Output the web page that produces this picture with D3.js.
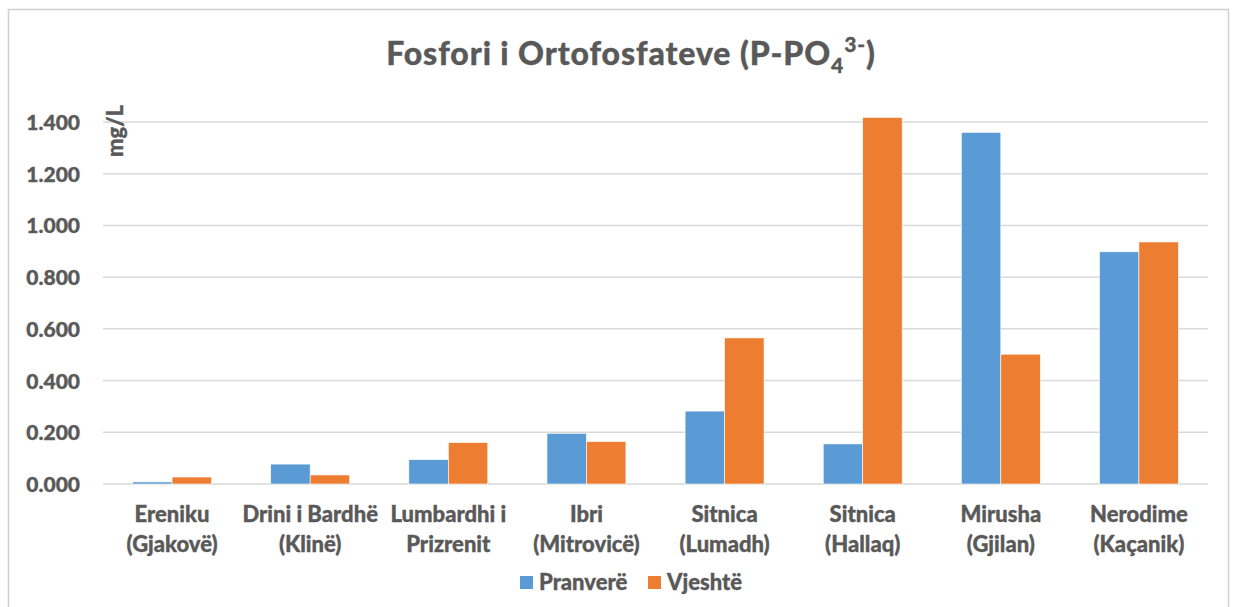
<!DOCTYPE html>
<html>
<head>
<meta charset="utf-8">
<script src="https://cdn.jsdelivr.net/npm/d3@7"></script>
<style>
  body { margin: 0; background: #fff; }
  text { font-family: Lato, "Open Sans", sans-serif; font-weight: 900; fill: #595959;
         stroke: #595959; stroke-width: 0.35px; }
</style>
</head>
<body>
<div id="chart"></div>
<script>
// data
var categories = [
  ["Ereniku", "(Gjakovë)"],
  ["Drini i Bardhë", "(Klinë)"],
  ["Lumbardhi i", "Prizrenit"],
  ["Ibri", "(Mitrovicë)"],
  ["Sitnica", "(Lumadh)"],
  ["Sitnica", "(Hallaq)"],
  ["Mirusha", "(Gjilan)"],
  ["Nerodime", "(Kaçanik)"]
];
var pranvere = [0.008, 0.077, 0.094, 0.196, 0.282, 0.155, 1.360, 0.898];
var vjeshte  = [0.027, 0.035, 0.160, 0.164, 0.565, 1.418, 0.502, 0.936];
var seriesNames = ["Pranverë", "Vjeshtë"];
var colors = ["#5B9BD5", "#ED7D31"];
var yTicks = [0, 0.2, 0.4, 0.6, 0.8, 1.0, 1.2, 1.4];

var W = 1235, H = 607;
var margin = {top: 122, right: 27, bottom: 123, left: 103};
var width = W - margin.left - margin.right,
    height = H - margin.top - margin.bottom;

var svg = d3.select("#chart")
  .append("svg")
  .attr("width", W)
  .attr("height", H);

// chart area border
svg.append("rect")
  .attr("x", 8.5).attr("y", 9.5)
  .attr("width", 1220).attr("height", 620)
  .attr("fill", "none")
  .attr("stroke", "#d0d0d0")
  .attr("stroke-width", 1.5);

var g = svg.append("g")
  .attr("transform", "translate(" + margin.left + "," + margin.top + ")");

var x = d3.scaleBand()
  .domain(d3.range(categories.length))
  .range([0, width])
  .paddingInner(0)
  .paddingOuter(0);

var bw = x.bandwidth() / 3.5;   // excel gap width 150%

var y = d3.scaleLinear()
  .domain([0, 1.4])
  .range([height, 0]);

// gridlines
g.selectAll(".grid")
  .data(yTicks)
  .enter().append("line")
  .attr("x1", 0).attr("x2", width)
  .attr("y1", function(d) { return y(d); })
  .attr("y2", function(d) { return y(d); })
  .attr("stroke", "#d9d9d9")
  .attr("stroke-width", 1.5);

// y axis labels
var yAxis = g.append("g")
  .attr("transform", "translate(-23,0)")
  .call(d3.axisLeft(y).tickValues(yTicks).tickFormat(d3.format(".3f")).tickSize(0));
yAxis.select(".domain").remove();
yAxis.selectAll("text")
  .attr("x", 0)
  .attr("dy", "0.36em")
  .style("font-size", "21px")
  .attr("fill", "#595959");

// bars
var series = [pranvere, vjeshte];
series.forEach(function(vals, si) {
  g.selectAll(".bar" + si)
    .data(vals)
    .enter().append("rect")
    .attr("class", "bar" + si)
    .attr("x", function(d, i) { return x(i) + x.bandwidth() / 2 - bw + si * bw; })
    .attr("y", function(d) { return y(d); })
    .attr("width", bw)
    .attr("height", function(d) { return y(0) - y(d); })
    .attr("fill", colors[si])
    .attr("stroke", "#fff")
    .attr("stroke-width", 0.6);
});

// x labels
var xl = g.selectAll(".xl")
  .data(categories)
  .enter().append("text")
  .attr("class", "xl")
  .attr("text-anchor", "middle")
  .attr("transform", function(d, i) { return "translate(" + (x(i) + x.bandwidth() / 2) + "," + (height + 38) + ")"; })
  .style("font-size", "22px");
xl.append("tspan").attr("x", 0).attr("y", 0).text(function(d) { return d[0]; });
xl.append("tspan").attr("x", 0).attr("y", 30).text(function(d) { return d[1]; });

// y axis title
svg.append("text")
  .attr("transform", "translate(123,131) rotate(-90)")
  .attr("text-anchor", "middle")
  .style("font-size", "22px")
  .text("mg/L");

// title
var title = svg.append("text")
  .attr("x", 631).attr("y", 65)
  .attr("text-anchor", "middle")
  .style("font-size", "32px")
  .style("letter-spacing", "0.9px");
title.append("tspan").text("Fosfori i Ortofosfateve (P-PO");
title.append("tspan").attr("dy", 8).style("font-size", "21px").text("4");
title.append("tspan").attr("dy", -21).style("font-size", "21px").text("3-");
title.append("tspan").attr("dy", 13).text(")");

// legend
var legendX = [520, 648];
var legend = svg.selectAll(".leg")
  .data(seriesNames)
  .enter().append("g")
  .attr("transform", function(d, i) { return "translate(" + legendX[i] + ",576)"; });
legend.append("rect")
  .attr("width", 13).attr("height", 13)
  .attr("fill", function(d, i) { return colors[i]; });
legend.append("text")
  .attr("x", 19).attr("y", 14)
  .style("font-size", "22px")
  .text(function(d) { return d; });
</script>
</body>
</html>
